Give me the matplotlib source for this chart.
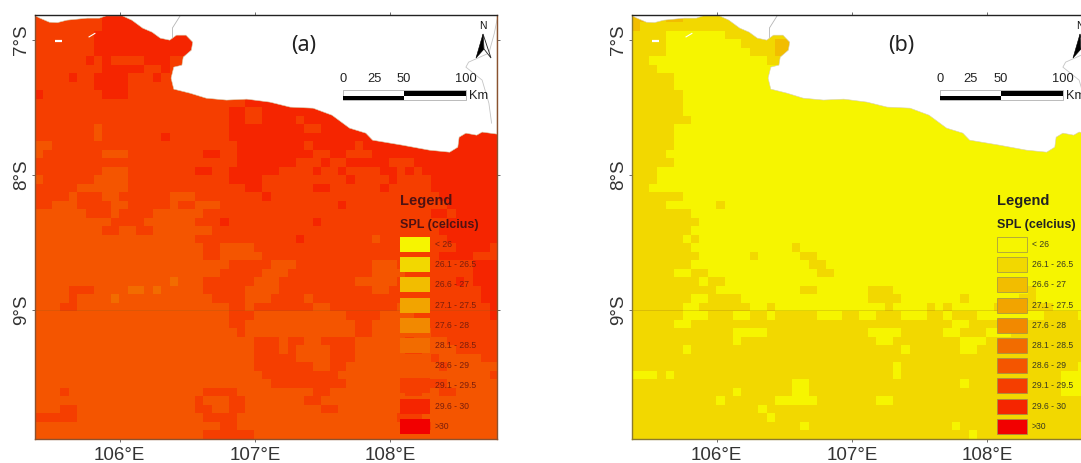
import matplotlib
matplotlib.use("Agg")
import matplotlib.pyplot as plt
from matplotlib.colors import ListedColormap
from matplotlib.patches import Polygon, Rectangle
from matplotlib.transforms import Affine2D
import numpy as np

plt.rcParams["font.family"] = ["Liberation Sans", "DejaVu Sans"]

class_labels = ["< 26", "26.1 - 26.5", "26.6 - 27", "27.1 - 27.5", "27.6 - 28",
                "28.1 - 28.5", "28.6 - 29", "29.1 - 29.5", "29.6 - 30", ">30"]
class_colors = ["#f6f500", "#f2d800", "#f2bd00", "#f2a400", "#f28900",
                "#f26c00", "#f45500", "#f53e00", "#f52500", "#f20000"]

lon_ticks = [106, 107, 108]
lat_ticks = [-7, -8, -9]
lon_labels = ["106°E", "107°E", "108°E"]
lat_labels = ["7°S", "8°S", "9°S"]
lon_range = (105.37, 108.79)
lat_range = (-9.955, -6.81)

coast_lon = [105.37, 105.41, 105.48, 105.54, 105.61, 105.76, 105.85, 105.90, 106.02, 106.09,
             106.17, 106.24, 106.30, 106.37, 106.42, 106.49, 106.54, 106.53, 106.47, 106.46,
             106.40, 106.38, 106.40, 106.52, 106.64, 106.79, 106.94, 107.11, 107.26, 107.43,
             107.57, 107.70, 107.82, 107.87, 108.09, 108.29, 108.44, 108.50, 108.51, 108.56,
             108.64, 108.68, 108.79]
coast_lat = [-6.817, -6.837, -6.867, -6.870, -6.852, -6.837, -6.837, -6.820, -6.820, -6.852,
             -6.911, -6.941, -6.985, -7.000, -6.963, -6.963, -7.015, -7.074, -7.126, -7.185,
             -7.200, -7.281, -7.363, -7.393, -7.430, -7.444, -7.437, -7.459, -7.496, -7.504,
             -7.556, -7.652, -7.689, -7.741, -7.778, -7.815, -7.830, -7.793, -7.719, -7.689,
             -7.704, -7.681, -7.696]
border_west_lon = [106.45, 106.39, 106.39]
border_west_lat = [-6.815, -6.91, -6.98]
border_east_lon = [108.79, 108.77, 108.73, 108.58, 108.56, 108.68, 108.73, 108.75]
border_east_lat = [-6.85, -6.95, -7.096, -7.163, -7.2, -7.296, -7.467, -7.615]

# one character per grid cell, north to south, class index into class_colors
grid_a = [
    "7777777788888888888",
    "7777777788888888888",
    "7777777888888888888",
    "7777777888888888888",
    "7777777888888888888",
    "7777778787777888778",
    "7777777788888778787",
    "7777877888877787777",
    "7777777888877777777",
    "8777777788877777777",
    "7777777777777777777777777888888888888888888888888888888",
    "7777777777777777777777788778888888888888888888888888888",
    "7777777777777777777777788778888788888888888888888888888",
    "7777777677777777777777788888888877888888888888888888888",
    "7777777677777778777777788888888888888888888888888888888",
    "6677777777777777777777778888888878888878888888888888888",
    "6777777766677777777788778888888887788777888888888888888",
    "7777777777777777777777778888888777877888887778888888888",
    "7777777766677777777887788888877778778777788787888888888",
    "6777777666677777777777788887777777777877778777788888888",
    "7777766666677777777777777887777778877777787777788888888",
    "7777677766777777666777777778777777777777777777778888888",
    "7766677776677777677666777777777777778777777777777888888",
    "6666667776777766666677777777777777777777777777788788888",
    "6666666667777666666777877777777778777777777777777888888",
    "6666666677667766666667777777777777777777777777778888888",
    "6666666666666666666777777777777877777777677777777888888",
    "6666666666666666666677666677777777777777777777777788887",
    "6666666666666666666677666667777777777777777777778888777",
    "6666666666666666666666677777666777777777666777777777888",
    "6666666666666666666666777776667777777777666677777777888",
    "6666666666666666566677777766677777777766666777777787888",
    "6666777666655656666677777666677777777777667777777777788",
    "6666766665666666666667777666777767777777777777777777788",
    "6667766666666666666666677677777776677777777677777777778",
    "6666666666666666666666677766666666666777766667777777778",
    "6666666666666666666666677666666666666677666666777777777",
    "6666666666666666666666667666666666666677666666677777777",
    "6666666666666666666666666677767766777766666676666777777",
    "6666666666666666666666666677767666677766666677666677777",
    "6666666666666666666666666677777666677766666666676666677",
    "6666666666666666666666666677777776677666666666667666666",
    "6666666666666666666666666667777777776666666666666666667",
    "6666666666666666666666666666777777777666666666777666666",
    "6667666666666666666677776666666667766666666677667766666",
    "6666666666666666666766677666666677666666666666666666666",
    "6667766666666666666776677666666666776666666666666666666",
    "7777766666666666666677776666666666666666666777666666666",
    "6666666666666666666666776666666666666666666667766666666",
    "6666666666666666666677777766666666666666666666666666666",
]

grid_b = [
    "2211221111111111111",
    "2111111111111111111",
    "1111000000011111111",
    "1111000000000111122",
    "1111000000000011122",
    "1100000000000000111",
    "1110000000000000000",
    "1111100000000000000",
    "1111100000000000000",
    "1111110000000000000",
    "1111110000000000000000000000000000000000000000000000000",
    "1111110000000000000000000000000000000000000000000000000",
    "1111111000000000000000000000000000000000000000000000000",
    "1111100000000000000000000000000000000000000000000000000",
    "1111100000000000000000000000000000000000000000000000000",
    "1111100000000000000000000000000000000000000000000000000",
    "1111000000000000000000000000000000000000000000000000000",
    "1111100000000000000000000000000000000000000000000000000",
    "1110000000000000000000000000000000000000000000000000000",
    "1110000000000000000000000000000000000000000000000000000",
    "1100000000000000000000000000000000000000000000000000000",
    "1111110000000000000000000000000000000000000000000000000",
    "1111000000100000000000000000000000000000000000000000000",
    "1111111000000000000000000000000000000000000000000000000",
    "1111111100000000000000000000000000000000000000000000000",
    "1111111000000000000000000000000000000000000000000000000",
    "1111110100000000000000000000000000000000000000000000000",
    "1111111000000000000100000000000000000000000000000000000",
    "1111111100000010000011000000000000000000000000000000000",
    "1111111000000000000001100000000000000000000000000000000",
    "1111100110000000000000110000000000000000000000000000000",
    "1111111101100000000000000000000000000000000000000000000",
    "1111111111000000000011000000111000000000000000010000000",
    "1111111001111000000000000000111100000001000000110000000",
    "1111110011111100100000000000001000010100000100011100000",
    "1111110001110011011111000110011100011011100000000111100",
    "1111100111111111111111111111111111111100111111111111111",
    "1111111111110000111111111111000011111001110001111111111",
    "1111111111110111111111111111100111111110001111111111111",
    "1111110111111111111111111111111101111110011111111111111",
    "1111111111111111111111111111111111111111111111111111111",
    "1111111111111111111111111111111011111111111111111111100",
    "0001011111111111111111111111111011111111111111111110000",
    "1111111111111111111001111111111111111110111111111110000",
    "1111111111110111111001111111111111111111111111111110000",
    "1111111111011111100000111111100111111111111111111111111",
    "1111111111111110111111111111111111111111111111111111111",
    "1111111111111111011111111111111111111111111111111111111",
    "1111111111111111111101111111111111111101111111111111111",
    "1111111111111111111111111111111111111111011111111111111",
]

cmap = ListedColormap(class_colors)
fig = plt.figure(figsize=(10.81, 4.63), dpi=100)
# pixel positions of the reference, for the map furniture
px = Affine2D().scale(1, -1).translate(0, 463)


def to_array(rows):
    width = max(len(r) for r in rows)
    return np.array([[int(c) for c in r.ljust(width, r[-1])] for r in rows])


def draw_legend(dx, text_color, label_color, edge):
    fig.text(400 + dx, 201, "Legend", transform=px, fontsize=10.5, fontweight="bold",
             color=text_color, va="center", ha="left")
    fig.text(400 + dx, 225, "SPL (celcius)", transform=px, fontsize=9, fontweight="bold",
             color=text_color, va="center", ha="left")
    for i, (label, color) in enumerate(zip(class_labels, class_colors)):
        y = 237 + i * 20.2
        fig.add_artist(Rectangle((400 + dx, y), 29.5, 15, transform=px, facecolor=color,
                                 edgecolor=edge, linewidth=0.5))
        fig.text(435 + dx, y + 7.5, label, transform=px, fontsize=6.2, color=label_color,
                 va="center", ha="left")


def draw_scalebar(dx):
    x0, xm, x1 = 343 + dx, 404 + dx, 466 + dx
    fig.add_artist(Rectangle((x0, 90), x1 - x0, 10, transform=px, facecolor="white",
                             edgecolor="#888888", linewidth=0.4))
    fig.add_artist(Rectangle((xm, 90.5), x1 - xm, 5, transform=px, facecolor="black", linewidth=0))
    fig.add_artist(Rectangle((x0, 95.5), xm - x0, 4.5, transform=px, facecolor="black", linewidth=0))
    for x, label in zip([343, 374, 404, 466], ["0", "25", "50", "100"]):
        fig.text(x + dx, 79, label, transform=px, fontsize=9.3, color="#222222",
                 ha="center", va="center")
    fig.text(469 + dx, 96, "Km", transform=px, fontsize=9.3, color="#222222",
             ha="left", va="center")


def draw_north(dx):
    fig.text(483 + dx, 26, "N", transform=px, fontsize=7.5, color="#111111",
             ha="center", va="center")
    fig.add_artist(Polygon([(483 + dx, 34), (476 + dx, 58), (484 + dx, 49)], transform=px,
                           facecolor="black", edgecolor="black", linewidth=0.4))
    fig.add_artist(Polygon([(483 + dx, 34), (491 + dx, 58), (484 + dx, 49)], transform=px,
                           facecolor="white", edgecolor="#222222", linewidth=0.6))


def draw_panel(left, grid, name, dx, spine_color, text_color, label_color, edge):
    ax = fig.add_axes([left / 1081, 24 / 463, 462.5 / 1081, 424.5 / 463])
    ax.imshow(to_array(grid), cmap=cmap, vmin=-0.5, vmax=9.5, aspect="auto",
              interpolation="nearest",
              extent=(lon_range[0], lon_range[1], lat_range[0], lat_range[1]))
    land_lon = coast_lon + [lon_range[1], lon_range[0]]
    land_lat = coast_lat + [lat_range[1], lat_range[1]]
    ax.fill(land_lon, land_lat, color="white", linewidth=0.4, edgecolor="#d8d0b0")
    ax.plot(border_west_lon, border_west_lat, color="#b5b5b5", linewidth=0.6)
    ax.plot(border_east_lon, border_east_lat, color="#c4c4c4", linewidth=0.6)
    ax.plot([105.52, 105.57], [-7.007, -7.007], color="white", linewidth=1.6, solid_capstyle="butt")
    ax.plot([105.77, 105.82], [-6.978, -6.948], color="white", linewidth=0.8, solid_capstyle="butt")
    ax.axhline(-9, color="#8a5a20", linewidth=0.5, alpha=0.3)

    ax.set_xlim(*lon_range)
    ax.set_ylim(*lat_range)
    ax.set_xticks(lon_ticks, lon_labels, fontsize=13.5, color="#333333")
    ax.set_yticks(lat_ticks, lat_labels, fontsize=13.5, color="#333333", rotation=90, va="center")
    ax.tick_params(top=True, right=True, length=2.5, width=0.6, color="#555555")
    ax.tick_params(axis="x", pad=3)
    ax.tick_params(axis="y", pad=0.5)
    for side in ["left", "bottom", "right"]:
        ax.spines[side].set_color(spine_color)
        ax.spines[side].set_linewidth(1.0)
    ax.spines["top"].set_color("#222222")
    ax.spines["top"].set_linewidth(1.0)

    fig.text(304 + dx, 46, name, transform=px, family="Noto Sans", fontsize=15.5,
             color="#222222", ha="center", va="center")
    draw_scalebar(dx)
    draw_north(dx)
    draw_legend(dx, text_color, label_color, edge)


draw_panel(34.5, grid_a, "(a)", 0, "#8a5230", "#4f1212", "#7a1e0c", "none")
draw_panel(631.5, grid_b, "(b)", 597, "#8a7a30", "#222222", "#3a3a20", "#9a8f50")

fig.savefig("out.png", dpi=100)
